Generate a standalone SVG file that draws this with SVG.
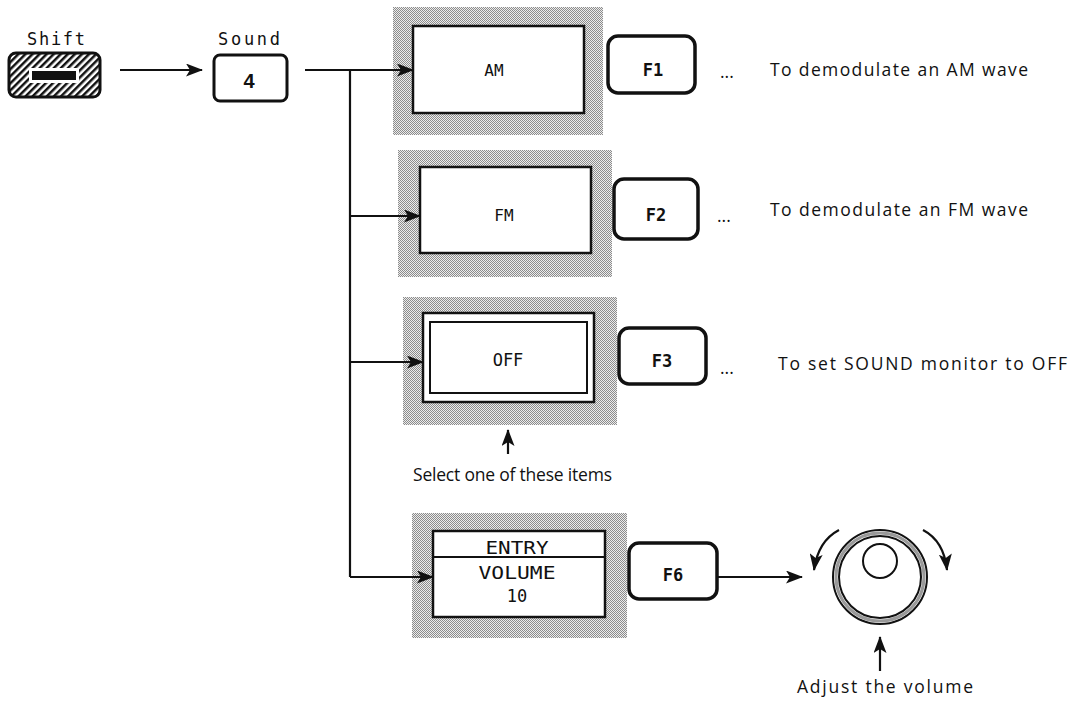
<svg xmlns="http://www.w3.org/2000/svg" width="1070" height="702" viewBox="0 0 1070 702">
<defs>
<pattern id="dots" patternUnits="userSpaceOnUse" width="2" height="2">
<rect width="2" height="2" fill="#ececec"/>
<rect x="0" y="0" width="1" height="1" fill="#8c8c8c"/>
<rect x="1" y="1" width="1" height="1" fill="#8c8c8c"/>
</pattern>
<pattern id="hatch" patternUnits="userSpaceOnUse" width="5" height="5" patternTransform="rotate(45)">
<rect width="5" height="5" fill="#fff"/>
<rect x="0" y="0" width="2.5" height="5" fill="#111"/>
</pattern>
<marker id="arr" markerWidth="17" markerHeight="13" refX="16" refY="6.5" orient="auto" markerUnits="userSpaceOnUse">
<path d="M0,0 L17,6.5 L0,13 L4,6.5 Z" fill="#111"/>
</marker>
</defs>
<style>
.mono{font-family:"DejaVu Sans Mono","Liberation Mono",monospace;fill:#111}
.key{font-family:"DejaVu Sans Mono","Liberation Mono",monospace;font-weight:bold;fill:#111}
.desc{font-family:"Open Sans","Noto Sans",sans-serif;fill:#111;font-size:17.5px}
.shade{fill:url(#dots)}
.win{fill:#fff;stroke:#111;stroke-width:2.5}
.fkey{fill:#fff;stroke:#111;stroke-width:3.5}
.line{fill:none;stroke:#111;stroke-width:2.2}
</style>

<g id="shift">
<text class="mono" x="56" y="45" font-size="17" text-anchor="middle" textLength="58" lengthAdjust="spacing">Shift</text>
<rect x="9" y="53" width="91" height="44" rx="7" fill="url(#hatch)" stroke="#111" stroke-width="3"/>
<rect x="29" y="68" width="50" height="15" fill="#fff"/>
<rect x="32" y="71" width="44" height="9" fill="#111"/>
</g>

<g id="sound">
<text class="mono" x="249" y="45" font-size="17" text-anchor="middle" textLength="62" lengthAdjust="spacing">Sound</text>
<rect x="214" y="55" width="73" height="46" rx="6" fill="#fff" stroke="#111" stroke-width="3"/>
<text x="249" y="88" font-family="Liberation Sans, Arial, sans-serif" font-weight="bold" font-size="20" text-anchor="middle" fill="#111">4</text>
</g>

<g id="am">
<rect class="shade" x="393" y="7" width="210" height="128"/>
<rect class="win" x="413" y="26" width="171" height="87"/>
<text class="mono" x="494" y="76" font-size="16" text-anchor="middle">AM</text>
</g>
<g id="f1">
<rect class="fkey" x="608" y="36" width="87" height="57" rx="10"/>
<text class="key" x="653" y="76" font-size="17" text-anchor="middle">F1</text>
<text class="desc" x="720" y="78">...</text>
<text class="desc" x="770" y="76" textLength="258" lengthAdjust="spacing">To demodulate an AM wave</text>
</g>

<g id="fm">
<rect class="shade" x="398" y="150" width="214" height="127"/>
<rect class="win" x="420" y="167" width="171" height="86"/>
<text class="mono" x="504" y="221" font-size="16" text-anchor="middle">FM</text>
</g>
<g id="f2">
<rect class="fkey" x="614" y="179" width="84" height="60" rx="10"/>
<text class="key" x="656" y="221" font-size="17" text-anchor="middle">F2</text>
<text class="desc" x="717" y="222">...</text>
<text class="desc" x="770" y="216" textLength="258" lengthAdjust="spacing">To demodulate an FM wave</text>
</g>

<g id="off">
<rect class="shade" x="403" y="297" width="214" height="128"/>
<rect class="win" x="423" y="313" width="171" height="89"/>
<rect x="430" y="322" width="157" height="71" fill="none" stroke="#111" stroke-width="2"/>
<text class="mono" x="508" y="366" font-size="17" text-anchor="middle">OFF</text>
</g>
<g id="f3">
<rect class="fkey" x="619" y="328" width="87" height="56" rx="10"/>
<text class="key" x="662" y="367" font-size="17" text-anchor="middle">F3</text>
<text class="desc" x="720" y="374">...</text>
<text class="desc" x="778" y="370" textLength="289" lengthAdjust="spacing">To set SOUND monitor to OFF</text>
</g>

<g id="select-label">
<text class="desc" x="413" y="481" textLength="199" lengthAdjust="spacing">Select one of these items</text>
</g>

<g id="entry">
<rect class="shade" x="412" y="513" width="215" height="125"/>
<rect class="win" x="433" y="531" width="172" height="86"/>
<line x1="433" y1="557" x2="605" y2="557" stroke="#111" stroke-width="2"/>
<text class="mono" x="517" y="554" font-size="17" text-anchor="middle" textLength="63" lengthAdjust="spacingAndGlyphs">ENTRY</text>
<text class="mono" x="517" y="579" font-size="17" text-anchor="middle" textLength="77" lengthAdjust="spacingAndGlyphs">VOLUME</text>
<text class="mono" x="517" y="602" font-size="17" text-anchor="middle">10</text>
</g>
<g id="f6">
<rect class="fkey" x="629" y="543" width="88" height="56" rx="10"/>
<text class="key" x="673" y="581" font-size="17" text-anchor="middle">F6</text>
</g>

<g id="knob">
<circle cx="880" cy="577" r="47" fill="#fff" stroke="#111" stroke-width="2"/>
<circle cx="880" cy="577" r="44" fill="none" stroke="#999" stroke-width="3"/>
<circle cx="880" cy="577" r="41" fill="none" stroke="#111" stroke-width="2"/>
<circle cx="880" cy="561" r="17" fill="#fff" stroke="#111" stroke-width="2"/>
<text class="desc" x="797" y="693" textLength="176" lengthAdjust="spacing">Adjust the volume</text>
</g>

<g id="connectors">
<line class="line" x1="120" y1="70" x2="202" y2="70" marker-end="url(#arr)"/>
<polyline class="line" points="305,70 350,70 350,577"/>
<line class="line" x1="350" y1="70" x2="413" y2="70" marker-end="url(#arr)"/>
<line class="line" x1="350" y1="216" x2="420" y2="216" marker-end="url(#arr)"/>
<line class="line" x1="350" y1="362" x2="423" y2="362" marker-end="url(#arr)"/>
<line class="line" x1="350" y1="577" x2="433" y2="577" marker-end="url(#arr)"/>
<line class="line" x1="717" y1="577" x2="802" y2="577" marker-end="url(#arr)"/>
<line class="line" x1="508" y1="454" x2="508" y2="430" marker-end="url(#arr)"/>
<line class="line" x1="880" y1="671" x2="880" y2="637" marker-end="url(#arr)"/>
<path class="line" d="M839,530 Q818,541 814,570" marker-end="url(#arr)"/>
<path class="line" d="M923,530 Q944,541 947,570" marker-end="url(#arr)"/>
</g>
</svg>
